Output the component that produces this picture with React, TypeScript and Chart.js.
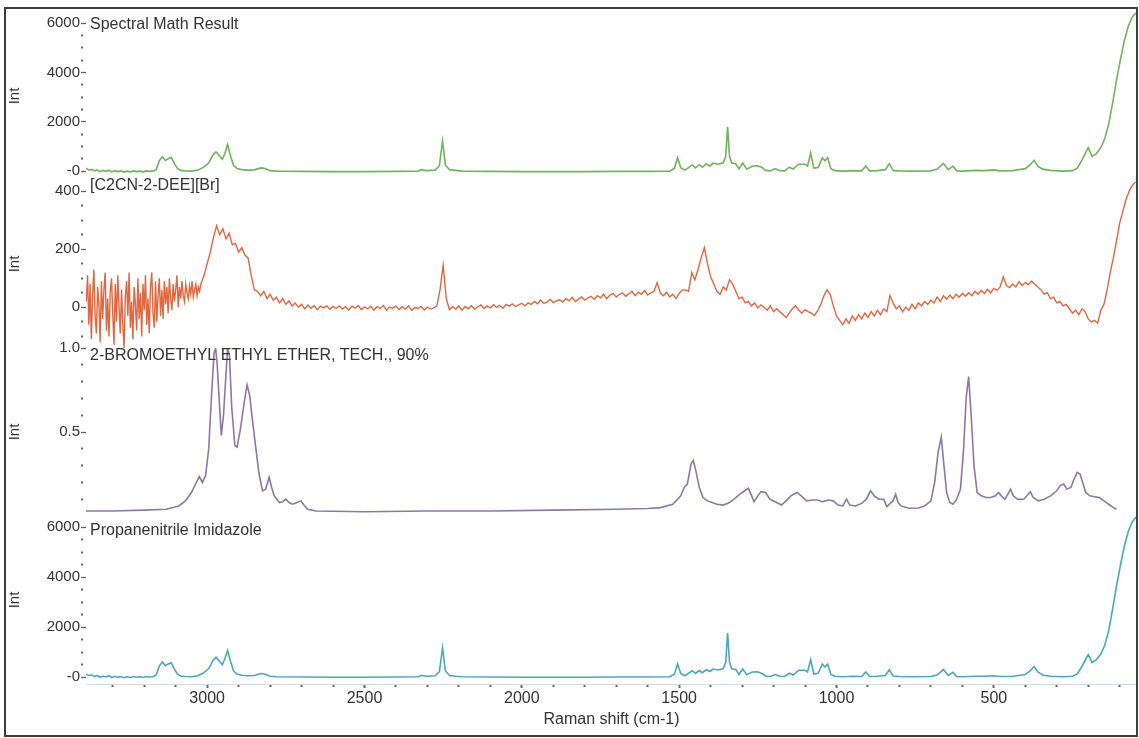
import React, { useEffect, useRef } from 'react';
import { Chart, registerables } from 'chart.js';

Chart.register(...registerables);

// ---------- axis / tick data ----------
const xMin = 45;
const xMax = 3385;
const xTicks = [100, 200, 300, 400, 500, 600, 700, 800, 900, 1000, 1100, 1200, 1300, 1400, 1500, 1600, 1700, 1800, 1900, 2000, 2100, 2200, 2300, 2400, 2500, 2600, 2700, 2800, 2900, 3000, 3100, 3200, 3300];
const xMajor = [500, 1000, 1500, 2000, 2500, 3000];

const intTicks = [0, 500, 1000, 1500, 2000, 2500, 3000, 3500, 4000, 4500, 5000, 5500, 6000];
const intMajor = [0, 2000, 4000, 6000];
const redTicks = [-100, -50, 0, 50, 100, 150, 200, 250, 300, 350, 400];
const redMajor = [0, 200, 400];
const purpleTicks = [0.1, 0.2, 0.3, 0.4, 0.5, 0.6, 0.7, 0.8, 0.9, 1.0];
const purpleMajor = [0.5, 1.0];

const titles = ['Spectral Math Result', '[C2CN-2-DEE][Br]', '2-BROMOETHYL ETHYL ETHER, TECH., 90%', 'Propanenitrile Imidazole'];

// ---------- series: Spectral Math Result ----------
const greenShift = [3385, 3375, 3366, 3358, 3350, 3340, 3332, 3322, 3312, 3303, 3294, 3284, 3274, 3264, 3254, 3244, 3234, 3224, 3214, 3204, 3194, 3184, 3172, 3162, 3152, 3142, 3133, 3124, 3114, 3104, 3094, 3084, 3070, 3050, 3030, 3012, 2995, 2982, 2972, 2962, 2952, 2944, 2935, 2926, 2916, 2905, 2890, 2870, 2850, 2830, 2818, 2800, 2780, 2700, 2600, 2500, 2400, 2330, 2318, 2305, 2275, 2262, 2252, 2243, 2230, 2210, 2190, 2100, 2000, 1900, 1800, 1700, 1600, 1530, 1515, 1505, 1495, 1482, 1470, 1458, 1448, 1436, 1426, 1414, 1402, 1392, 1375, 1360, 1352, 1346, 1340, 1333, 1320, 1310, 1298, 1285, 1268, 1252, 1238, 1225, 1210, 1195, 1180, 1165, 1150, 1138, 1120, 1100, 1092, 1082, 1072, 1058, 1045, 1037, 1028, 1018, 1005, 980, 950, 920, 907, 895, 870, 845, 832, 820, 800, 760, 700, 680, 660, 645, 630, 618, 600, 560, 530, 500, 480, 440, 400, 385, 372, 360, 345, 320, 280, 250, 235, 222, 210, 200, 188, 175, 160, 148, 135, 122, 110, 98, 85, 72, 60, 48];
const greenInt = [120, 40, 70, 10, 50, -20, 30, -10, 40, -30, 20, -20, 10, -40, 0, -30, 10, -20, 0, -30, 10, -10, 0, 60, 420, 580, 430, 500, 560, 300, 100, 30, 10, 0, 40, 150, 330, 640, 780, 640, 480, 700, 1080, 620, 230, 110, 60, 40, 50, 130, 110, 20, 0, -10, -20, -20, -10, 0, 60, 20, 40, 220, 1230, 260, 60, 30, 0, -10, -20, -20, -20, -10, -10, 0, 120, 550, 140, 40, 140, 250, 130, 260, 160, 290, 210, 320, 280, 340, 600, 1800, 600, 330, 300, 90, 330, 80, 200, 220, 160, 30, 10, 100, 20, 10, 160, 80, 280, 280, 200, 730, 120, 150, 540, 420, 540, 100, 20, 0, 20, 10, 210, 10, 20, 60, 300, 30, 10, 0, 10, 80, 310, 60, 200, 10, 0, 30, 20, 50, 10, 20, 100, 250, 440, 200, 80, 30, 0, 20, 120, 400, 700, 950, 600, 700, 950, 1300, 1900, 2800, 3700, 4500, 5300, 5900, 6250, 6420];

// ---------- series: [C2CN-2-DEE][Br] ----------
// noisy high-shift end, sampled every 4 cm-1 from 3384 to 3024
const redNoiseStart = 3384;
const redNoiseStep = 4;
const redNoiseInt = [
  20, 110, -60, 80, -110, 40, 130, -30, -90, 70,
  10, -120, 90, -40, 60, 120, -80, 30, -100, 50,
  100, -20, -130, 80, -50, 110, 0, -90, 60, -60,
  -140, 40, 90, -30, 120, -70, 20, -110, 70, 10,
  -80, 100, -40, 50, -100, 80, -10, 110, -60, 30,
  -90, 70, 120, -20, -70, 90, -50, 40, 100, -30,
  60,
  -40, 90, 10, 70, -20, 100, 30, -10, 80, 20,
  60, 110, 0, 70, 30, 90, 40, 20, 80, 50,
  30, 75, 45, 90, 35, 60, 80, 40, 70, 55,
];
// remainder, sampled every 10 cm-1 from 3020 to 50
const redStart = 3020;
const redStep = 10;
const redInt = [
  80, 110, 150, 190,
  240, 280, 250, 270, 235, 255, 215, 220, 190, 205,
  180, 170, 110, 60, 55, 40, 55, 30, 45, 25,
  35, 15, 30, 10, 22, 5, 15, 0, 10, -5,
  8, -3, 6, -8, 4, -2, 5, -7, 3, -4,
  5, -6, 2, -9, 4, -3, 6, -8, 1, -5,
  3, -10, 2, -4, 6, -9, 0, -3, 4, -8,
  2, -6, 5, -10, -1, -4, 3, -9, 1, -6,
  -2, 5, 60, 145, 30, -8, 2, -6, 4, -10,
  3, -5, 6, -7, 2, 8, -4, 5, -2, 9,
  0, 7, -3, 10, 4, 12, 2, 8, 14, 5,
  15, 10, 20, 12, 25, 14, 18, 28, 16, 22,
  26, 18, 30, 22, 34, 20, 28, 36, 25, 32,
  38, 28, 40, 33, 45, 30, 42, 48, 35, 44,
  50, 38, 46, 55, 40, 52, 45, 58, 42, 50,
  55, 85, 50, 40, 52, 36, 45, 30, 48, 60,
  60, 55, 120, 95, 130, 170, 205, 150, 105, 80,
  55, 45, 70, 60, 95, 80, 55, 30, 35, 15,
  20, 5, 15, -2, 8, 0, -10, 5, -15, -5,
  -15, -25, -35, -20, -5, 5, -10, -20, -8, -15,
  -20, -28, -12, 10, 40, 60, 45, 5, -30, -45,
  -60, -40, -55, -30, -45, -25, -40, -20, -35, -15,
  -30, -10, -25, -5, -15, 40, 15, -5, 5, -15,
  0, -10, 10, -5, 15, 5, 20, 10, 25, 15,
  35, 20, 40, 28, 42, 30, 45, 35, 48, 38,
  50, 40, 55, 45, 58, 48, 62, 50, 65, 58,
  70, 105, 75, 68, 80, 70, 88, 75, 85, 78,
  90, 80, 70, 60, 45, 50, 30, 35, 15, 20,
  5, 10, -5, -20, -10, -25, -5, -15, -40, -50,
  -45, -55, -10, 10, 60, 120, 170, 230, 290, 330,
  370, 400, 420, 430,
];

// ---------- series: 2-bromoethyl ethyl ether ----------
const purpleShift = [3385, 3300, 3200, 3130, 3090, 3069, 3050, 3037, 3025, 3015, 3005, 2995, 2986, 2978, 2973, 2968, 2962, 2955, 2948, 2941, 2935, 2929, 2922, 2912, 2905, 2894, 2882, 2873, 2865, 2856, 2845, 2835, 2824, 2814, 2803, 2795, 2787, 2770, 2760, 2750, 2740, 2729, 2715, 2702, 2690, 2681, 2654, 2500, 2300, 2100, 1900, 1700, 1600, 1560, 1520, 1495, 1484, 1474, 1462, 1455, 1447, 1436, 1424, 1410, 1395, 1380, 1360, 1340, 1320, 1300, 1280, 1272, 1262, 1250, 1240, 1225, 1212, 1195, 1175, 1160, 1145, 1125, 1112, 1095, 1075, 1060, 1045, 1025, 1010, 995, 980, 968, 958, 940, 920, 905, 892, 880, 866, 850, 840, 820, 812, 804, 795, 770, 740, 720, 700, 688, 677, 667, 660, 650, 640, 630, 618, 606, 596, 588, 580, 572, 563, 553, 540, 525, 510, 495, 485, 476, 465, 455, 447, 438, 425, 405, 395, 384, 375, 358, 340, 320, 300, 290, 278, 268, 255, 245, 235, 226, 216, 208, 195, 180, 165, 150, 135, 120, 110];
const purpleInt = [0.03, 0.03, 0.035, 0.04, 0.06, 0.09, 0.14, 0.19, 0.235, 0.2, 0.24, 0.4, 0.72, 0.97, 1.0, 0.9, 0.7, 0.48, 0.6, 0.82, 1.0, 0.95, 0.65, 0.42, 0.41, 0.52, 0.68, 0.78, 0.72, 0.57, 0.4, 0.25, 0.15, 0.16, 0.23, 0.17, 0.12, 0.08, 0.085, 0.1, 0.08, 0.07, 0.08, 0.09, 0.06, 0.04, 0.03, 0.025, 0.03, 0.03, 0.035, 0.04, 0.045, 0.05, 0.07, 0.12, 0.17, 0.19, 0.31, 0.33, 0.27, 0.17, 0.11, 0.09, 0.08, 0.07, 0.065, 0.08, 0.11, 0.14, 0.165, 0.13, 0.085, 0.12, 0.145, 0.14, 0.1, 0.085, 0.065, 0.09, 0.12, 0.14, 0.12, 0.09, 0.095, 0.095, 0.085, 0.095, 0.09, 0.065, 0.06, 0.1, 0.065, 0.06, 0.075, 0.1, 0.15, 0.12, 0.1, 0.1, 0.056, 0.09, 0.13, 0.08, 0.06, 0.046, 0.048, 0.06, 0.09, 0.2, 0.38, 0.47, 0.33, 0.14, 0.08, 0.07, 0.1, 0.16, 0.4, 0.7, 0.83, 0.6, 0.3, 0.14, 0.12, 0.11, 0.11, 0.12, 0.14, 0.12, 0.1, 0.13, 0.16, 0.12, 0.1, 0.1, 0.12, 0.145, 0.11, 0.09, 0.1, 0.12, 0.15, 0.18, 0.19, 0.16, 0.17, 0.22, 0.26, 0.25, 0.19, 0.14, 0.12, 0.115, 0.11, 0.09, 0.07, 0.05, 0.04];

// ---------- series: Propanenitrile Imidazole ----------
const cyanShift = [3385, 3376, 3367, 3358, 3349, 3340, 3331, 3322, 3312, 3303, 3293, 3284, 3274, 3264, 3254, 3244, 3234, 3224, 3214, 3204, 3194, 3184, 3172, 3162, 3152, 3142, 3133, 3124, 3114, 3104, 3094, 3084, 3070, 3050, 3030, 3012, 2995, 2982, 2972, 2962, 2952, 2944, 2935, 2926, 2916, 2905, 2890, 2870, 2850, 2830, 2818, 2800, 2780, 2700, 2600, 2500, 2400, 2330, 2318, 2305, 2275, 2262, 2252, 2243, 2230, 2210, 2190, 2100, 2000, 1900, 1800, 1700, 1600, 1530, 1515, 1505, 1495, 1482, 1470, 1458, 1448, 1436, 1426, 1414, 1402, 1392, 1375, 1360, 1352, 1346, 1340, 1333, 1320, 1310, 1298, 1285, 1268, 1252, 1238, 1225, 1210, 1195, 1180, 1165, 1150, 1138, 1120, 1100, 1092, 1082, 1072, 1058, 1045, 1037, 1028, 1018, 1005, 980, 950, 920, 907, 895, 870, 845, 832, 820, 800, 760, 700, 680, 660, 645, 630, 618, 600, 560, 530, 500, 480, 440, 400, 385, 372, 360, 345, 320, 280, 250, 235, 222, 210, 200, 188, 175, 160, 148, 135, 122, 110, 98, 85, 72, 60, 48];
const cyanInt = [110, 60, 80, 20, 60, -10, 40, 0, 50, -20, 30, -10, 20, -30, 10, -20, 20, -10, 10, -20, 20, 0, 10, 80, 440, 600, 450, 520, 570, 310, 110, 40, 20, 10, 50, 160, 340, 650, 790, 650, 490, 720, 1060, 640, 240, 120, 70, 50, 60, 140, 120, 30, 10, 0, -10, -10, 0, 10, 70, 30, 50, 210, 1160, 250, 60, 30, 10, 0, -10, -10, -10, 0, 0, 10, 120, 520, 140, 50, 150, 250, 140, 260, 170, 290, 220, 320, 280, 340, 590, 1760, 590, 330, 300, 100, 320, 90, 200, 210, 150, 40, 20, 100, 30, 20, 150, 80, 270, 270, 200, 700, 120, 150, 520, 400, 520, 100, 30, 10, 30, 20, 200, 20, 30, 60, 290, 40, 20, 10, 20, 80, 300, 60, 190, 20, 10, 30, 30, 50, 20, 30, 100, 240, 420, 200, 80, 30, 10, 30, 120, 380, 660, 900, 580, 680, 920, 1250, 1850, 2750, 3650, 4450, 5250, 5850, 6200, 6400];

// ---------- helpers ----------
const FONT = '"Liberation Sans", Arial, sans-serif';
const TEXT = '#333333';
const titleOffsets = [13, 6, 8, 15];

function pairs(xs: number[], ys: number[]) {
  return ys.map((y, i) => ({ x: xs[i], y }));
}

function yScale(
  weight: number,
  min: number,
  max: number,
  ticks: number[],
  majors: number[],
  fmt: (v: number) => string
) {
  const isMajor = (v: number) => majors.some((m) => Math.abs(m - v) < 1e-9);
  return {
    type: 'linear',
    position: 'left',
    stack: 'panels',
    stackWeight: 1,
    weight,
    min,
    max,
    afterBuildTicks: (s: any) => {
      s.ticks = ticks.map((v) => ({ value: v }));
    },
    afterFit: (s: any) => {
      s.width = 86;
    },
    border: { display: false },
    grid: {
      drawOnChartArea: false,
      drawTicks: true,
      tickLength: 5,
      tickColor: '#666666',
      tickWidth: (c: any) => (c.tick && isMajor(c.tick.value) ? 1.3 : 2),
      tickBorderDash: (c: any) => (c.tick && isMajor(c.tick.value) ? [] : [2, 20]),
    },
    ticks: {
      autoSkip: false,
      padding: 1,
      color: TEXT,
      font: { family: FONT, size: 15 },
      callback: (v: number) => (isMajor(v) ? fmt(v) : ''),
    },
    title: {
      display: true,
      text: 'Int',
      color: TEXT,
      font: { family: FONT, size: 15 },
      padding: { top: 6, bottom: 0 },
    },
  };
}

const panelTitlePlugin = {
  id: 'panelTitles',
  afterDatasetsDraw(chart: any) {
    const { ctx, chartArea } = chart;
    ctx.save();
    ctx.font = `16px ${FONT}`;
    ctx.fillStyle = TEXT;
    ctx.textBaseline = 'middle';
    ctx.textAlign = 'left';
    ['y1', 'y2', 'y3', 'y4'].forEach((id, i) => {
      const s = chart.scales[id];
      ctx.fillText(titles[i], chartArea.left + 4, s.top + titleOffsets[i]);
    });
    ctx.restore();
  },
};

export default function App() {
  const canvasRef = useRef<HTMLCanvasElement | null>(null);

  useEffect(() => {
    document.body.style.margin = '0';
    const canvas = canvasRef.current;
    if (!canvas) return;

    const redData = [
      ...redNoiseInt.map((y, i) => ({ x: redNoiseStart - i * redNoiseStep, y })),
      ...redInt.map((y, i) => ({ x: redStart - i * redStep, y })),
    ];

    const line = (label: string, data: any[], color: string, yAxisID: string, w = 1.6) => ({
      label,
      data,
      yAxisID,
      xAxisID: 'x',
      borderColor: color,
      borderWidth: w,
      pointRadius: 0,
      tension: 0,
      fill: false,
    });

    const chart = new Chart(canvas, {
      type: 'line',
      data: {
        datasets: [
          line(titles[0], pairs(greenShift, greenInt), '#6fb45c', 'y1'),
          line(titles[1], redData, '#e2663f', 'y2', 1.4),
          line(titles[2], pairs(purpleShift, purpleInt), '#8a78a6', 'y3'),
          line(titles[3], pairs(cyanShift, cyanInt), '#49a9bb', 'y4'),
        ],
      } as any,
      options: {
        animation: false,
        responsive: false,
        devicePixelRatio: 1,
        parsing: false as any,
        layout: { padding: { top: 12, right: 2, bottom: 0, left: 0 } },
        plugins: { legend: { display: false }, tooltip: { enabled: false } },
        scales: {
          x: {
            type: 'linear',
            position: 'bottom',
            reverse: true,
            min: xMin,
            max: xMax,
            afterBuildTicks: (s: any) => {
              s.ticks = xTicks.map((v) => ({ value: v }));
            },
            afterFit: (s: any) => {
              s.height = 54;
            },
            border: { display: true, color: '#d6dbe0', width: 1 },
            grid: {
              drawOnChartArea: false,
              tickLength: 4,
              tickColor: '#666666',
              tickWidth: 2,
              tickBorderDash: (c: any) => (c.tick && xMajor.includes(c.tick.value) ? [] : [2, 20]),
            },
            ticks: {
              autoSkip: false,
              maxRotation: 0,
              padding: 1,
              color: TEXT,
              font: { family: FONT, size: 16 },
              callback: (v: number) => (xMajor.includes(v) ? String(v) : ''),
            },
            title: {
              display: true,
              text: 'Raman shift (cm-1)',
              color: TEXT,
              font: { family: FONT, size: 16 },
              padding: { top: 0, bottom: 9 },
            },
          },
          y1: yScale(4, -360, 6450, intTicks, intMajor, (v) => (v === 0 ? '-0' : String(v))),
          y2: yScale(3, -140, 438, redTicks, redMajor, (v) => String(v)),
          y3: yScale(2, 0, 1.0, purpleTicks, purpleMajor, (v) => v.toFixed(1)),
          y4: yScale(1, -280, 6440, intTicks, intMajor, (v) => (v === 0 ? '-0' : String(v))),
        } as any,
      },
      plugins: [panelTitlePlugin],
    });

    return () => chart.destroy();
  }, []);

  return (
    <div style={{ position: 'absolute', left: 0, top: 0, width: 1139, height: 738, background: '#ffffff' }}>
      <canvas ref={canvasRef} width={1139} height={738} style={{ display: 'block', width: 1139, height: 738 }} />
      <div
        style={{
          position: 'absolute',
          left: 4,
          top: 7,
          width: 1134,
          height: 730,
          boxSizing: 'border-box',
          border: '2px solid #3c3c3c',
          pointerEvents: 'none',
        }}
      />
    </div>
  );
}
